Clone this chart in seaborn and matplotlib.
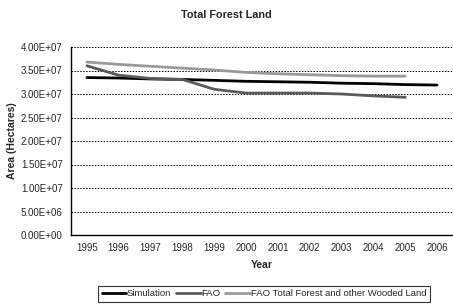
import numpy as np
import pandas as pd
import matplotlib
matplotlib.use('Agg')
import matplotlib.pyplot as plt
import seaborn as sns

years = ['1995', '1996', '1997', '1998', '1999', '2000',
         '2001', '2002', '2003', '2004', '2005', '2006']
simulation = [3.35e7, 3.34e7, 3.32e7, 3.31e7, 3.29e7, 3.27e7,
              3.26e7, 3.25e7, 3.23e7, 3.22e7, 3.20e7, 3.19e7]
fao = [3.60e7, 3.40e7, 3.33e7, 3.31e7, 3.10e7, 3.02e7,
       3.02e7, 3.02e7, 3.00e7, 2.96e7, 2.93e7]
fao_total = [3.68e7, 3.63e7, 3.59e7, 3.55e7, 3.51e7, 3.46e7,
             3.43e7, 3.41e7, 3.39e7, 3.38e7, 3.38e7]
ytick_labels = ['0.00E+00', '5.00E+06', '1.00E+07', '1.50E+07', '2.00E+07',
                '2.50E+07', '3.00E+07', '3.50E+07', '4.00E+07']

series_names = ['Simulation', 'FAO', 'FAO Total Forest and other Wooded Land']
colors = ['#000000', '#5a5a5a', '#9a9a9a']

rows = []
for name, vals in zip(series_names, [simulation, fao, fao_total]):
    for i, v in enumerate(vals):
        rows.append({'idx': i, 'value': v, 'series': name})
df = pd.DataFrame(rows)

sns.set_style('white')
plt.rcParams['font.family'] = ['Liberation Sans', 'DejaVu Sans']

fig = plt.figure(figsize=(4.53, 3.04), dpi=100)
ax = fig.add_axes([71 / 453, (304 - 235) / 304, (453 - 71) / 453, (235 - 47) / 304])

sns.lineplot(data=df, x='idx', y='value', hue='series', palette=colors,
             hue_order=series_names, linewidth=2.0, ax=ax, legend=False)

ax.set_xlim(-0.5, 11.5)
ax.set_ylim(0, 4.0e7)
ax.set_yticks(np.arange(0, 4.01e7, 5e6))
ax.set_yticklabels(ytick_labels)
ax.set_xticks(np.arange(-0.5, 12, 1), minor=False)
ax.set_xticklabels([])
ax.set_xticks(np.arange(12), minor=True)
ax.set_xticklabels(years, minor=True)
ax.tick_params(axis='x', which='major', direction='out', length=3, width=0.8, color='black')
ax.tick_params(axis='x', which='minor', length=0, labelsize=7, pad=6)
ax.tick_params(axis='y', direction='out', length=3, width=0.8, color='black', labelsize=7, pad=3)

for y in np.arange(5e6, 4.01e7, 5e6):
    ax.axhline(y, color='black', linestyle=(0, (1.5, 1.5)), linewidth=0.7, zorder=0)

for s in ['top', 'right']:
    ax.spines[s].set_visible(False)
for s in ['left', 'bottom']:
    ax.spines[s].set_color('black')
    ax.spines[s].set_linewidth(1.0)

ax.set_xlabel('Year', fontsize=7.5, fontweight='bold', labelpad=5)
ax.set_ylabel('Area (Hectares)', fontsize=7.5, fontweight='bold', labelpad=3)
fig.text(0.5, 1 - 15 / 304, 'Total Forest Land', ha='center', va='center',
         fontsize=7.8, fontweight='bold')

handles = [plt.Line2D([], [], color=c, linewidth=2.0) for c in colors]
leg = fig.legend(handles, series_names, loc='center',
                 bbox_to_anchor=(264 / 453, 1 - 294 / 304),
                 ncol=3, fontsize=6.8, frameon=True, fancybox=False,
                 handlelength=2.6, handletextpad=0.1, columnspacing=0.5,
                 borderpad=0.35, borderaxespad=0)
leg.get_frame().set_edgecolor('black')
leg.get_frame().set_linewidth(0.8)

fig.savefig('out.png', dpi=100)
